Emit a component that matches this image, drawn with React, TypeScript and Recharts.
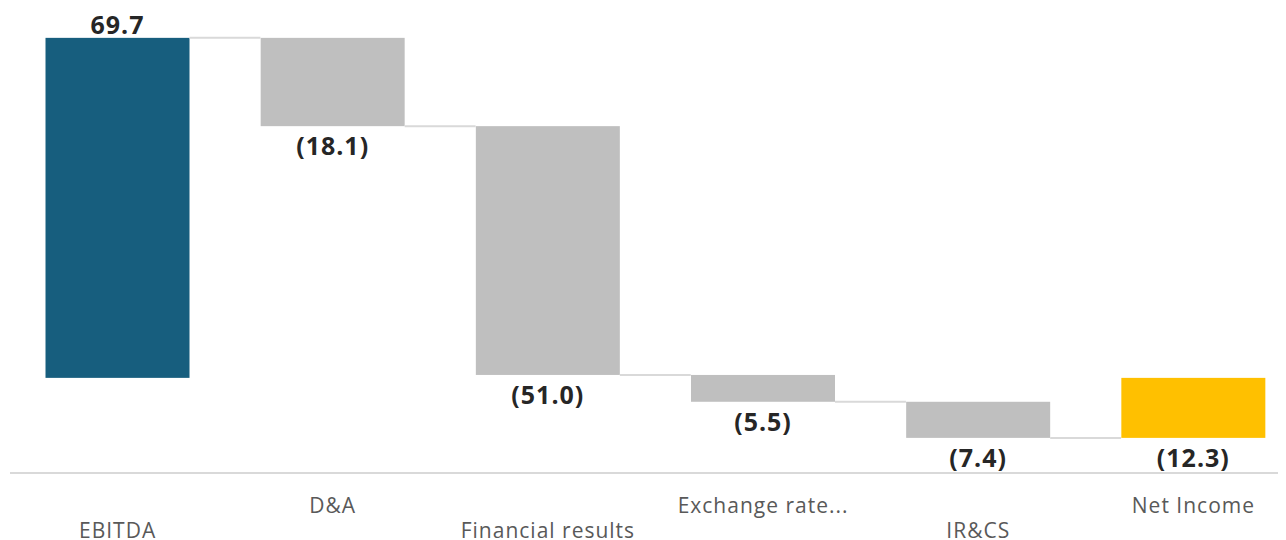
import React from "react";
import { BarChart, Bar, XAxis, YAxis, Cell } from "recharts";

const categories = ["EBITDA", "D&A", "Financial results", "Exchange rate...", "IR&CS", "Net Income"];
const changes = [69.7, -18.1, -51.0, -5.5, -7.4, -12.3];
const kinds = ["total", "delta", "delta", "delta", "delta", "total"];
const colors = { total0: "#175E7E", delta: "#BFBFBF", total5: "#FFC000" };

const GAP = 0.165;

let running = 0;
const data = categories.map((name, i) => {
  let start: number;
  let end: number;
  if (kinds[i] === "total") {
    start = 0;
    end = i === 0 ? changes[i] : running;
    running = end;
  } else {
    start = running;
    end = running + changes[i];
    running = end;
  }
  return {
    name,
    start,
    end,
    value: changes[i],
    range: [Math.min(start, end), Math.max(start, end)],
  };
});

const fmt = (v: number) => (v < 0 ? `(${Math.abs(v).toFixed(1)})` : v.toFixed(1));

const fillFor = (i: number) =>
  kinds[i] === "total" ? (i === 0 ? colors.total0 : colors.total5) : colors.delta;

const WaterfallShape = (props: any) => {
  const { x, y, width, height, payload, index } = props;
  const top = Math.min(y, y + height);
  const bottom = Math.max(y, y + height);
  const gap = (width * 2 * GAP) / (1 - 2 * GAP);
  const endY = payload.end >= payload.start ? top : bottom;
  const isLast = index === data.length - 1;
  const labelAbove = payload.value >= 0 && kinds[index] === "total";
  return (
    <g>
      <rect x={x} y={top} width={width} height={bottom - top} fill={fillFor(index)} />
      {!isLast && (
        <line x1={x + width} x2={x + width + gap} y1={endY} y2={endY} stroke="#D9D9D9" strokeWidth={2} />
      )}
      <text
        x={x + width / 2}
        y={labelAbove ? top - 4 : bottom + 29}
        textAnchor="middle"
        fontFamily="'Open Sans', sans-serif"
        fontWeight={700}
        fontSize={25}
        letterSpacing={1}
        fill="#262626"
      >
        {fmt(payload.value)}
      </text>
    </g>
  );
};

const CategoryTick = (props: any) => {
  const { x, y, payload, index } = props;
  const dy = index % 2 === 0 ? 57 : 32;
  return (
    <text
      x={x}
      y={y + dy}
      textAnchor="middle"
      fontFamily="'Open Sans', sans-serif"
      fontSize={21}
      letterSpacing={1}
      fill="#595959"
    >
      {payload.value}
    </text>
  );
};

export default function App() {
  return (
    <div style={{ width: 1278, height: 532, overflow: "visible" }}>
      <BarChart
        width={1300}
        height={532}
        data={data}
        margin={{ top: 4, right: 7, bottom: 7, left: 2 }}
        barCategoryGap={`${GAP * 100}%`}
        style={{ overflow: "visible" }}
      >
        <XAxis
          dataKey="name"
          interval={0}
          tickLine={false}
          axisLine={{ stroke: "#D9D9D9", strokeWidth: 2 }}
          tick={<CategoryTick />}
          height={60}
        />
        <YAxis hide domain={[-19.5, 75]} type="number" allowDataOverflow />
        <Bar dataKey="range" isAnimationActive={false} shape={<WaterfallShape />}>
          {data.map((d, i) => (
            <Cell key={d.name} fill={fillFor(i)} />
          ))}
        </Bar>
      </BarChart>
    </div>
  );
}
